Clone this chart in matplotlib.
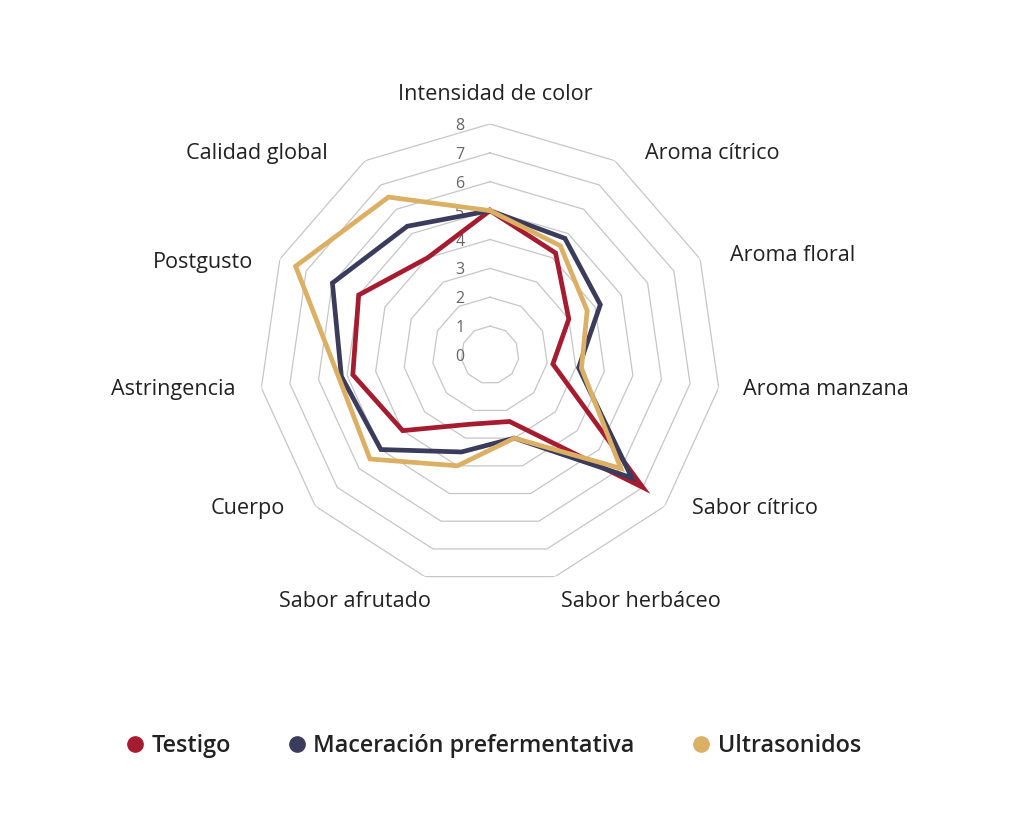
import numpy as np
import matplotlib
matplotlib.use("Agg")
import matplotlib.pyplot as plt
from matplotlib.lines import Line2D

categories = ["Intensidad de color", "Aroma cítrico", "Aroma floral", "Aroma manzana",
              "Sabor cítrico", "Sabor herbáceo", "Sabor afrutado", "Cuerpo",
              "Astringencia", "Postgusto", "Calidad global"]
series_names = ["Testigo", "Maceración prefermentativa", "Ultrasonidos"]
testigo = [5.0, 4.2, 3.0, 2.2, 7.0, 2.4, 2.5, 4.0, 4.8, 5.0, 4.0]
maceracion = [5.0, 4.8, 4.2, 3.1, 6.5, 3.0, 3.5, 5.0, 5.2, 6.0, 5.3]
ultrasonidos = [5.0, 4.5, 3.7, 3.2, 6.0, 3.0, 4.0, 5.5, 5.3, 7.4, 6.5]
levels = [0, 1, 2, 3, 4, 5, 6, 7, 8]

colors = ["#A51C30", "#3B3B5C", "#DCB064"]
FONT = "Open Sans"
plt.rcParams['font.family'] = [FONT, 'DejaVu Sans']

fig = plt.figure(figsize=(10.24, 8.34), dpi=100)
W, H = 1024, 834
cx, cy, R = 490, 355, 231
ax = fig.add_axes([(cx - R) / W, (H - cy - R) / H, 2 * R / W, 2 * R / H], projection='polar')
ax.set_theta_zero_location('N')
ax.set_theta_direction(-1)
ax.set_ylim(0, levels[-1])
ax.grid(False)
ax.spines['polar'].set_visible(False)
ax.set_xticks([])
ax.set_yticks([])
ax.patch.set_alpha(0)

n = len(categories)
theta = np.linspace(0, 2 * np.pi, n, endpoint=False)
theta_c = np.append(theta, theta[0])

for lv in levels[1:]:
    ax.plot(theta_c, [lv] * (n + 1), color="#c6c6c6", lw=0.9, zorder=1)

for lv in levels:
    ax.annotate(str(lv), xy=(0, lv), xytext=(-30, -2), textcoords='offset pixels',
                ha='center', va='center', fontsize=11.5, color='#666666', zorder=2)

for vals, col in zip([testigo, maceracion, ultrasonidos], colors):
    v = np.append(vals, vals[0])
    ax.plot(theta_c, v, color=col, lw=3.4, solid_joinstyle='miter', zorder=3)

# label offsets (pixels) from outer vertex and alignment
label_layout = [((5, 30), 'center'), ((30, 7), 'left'), ((30, 4), 'left'), ((24, -2), 'left'),
                ((27, -2), 'left'), ((6, -25), 'left'), ((6, -25), 'right'), ((-31, -2), 'right'),
                ((-26, -2), 'right'), ((-27, -3), 'right'), ((-37, 7), 'right')]
for t, lab, (off, ha) in zip(theta, categories, label_layout):
    ax.annotate(lab, xy=(t, levels[-1]), xytext=off, textcoords='offset pixels',
                ha=ha, va='center', fontsize=15.6, color='#222222', annotation_clip=False)

handles = [Line2D([], [], marker='o', ls='none', color=c, markersize=11) for c in colors]
fig.legend(handles, series_names, loc='center', bbox_to_anchor=(492 / W, 1 - 746 / H),
           ncol=3, frameon=False, handletextpad=0.2, columnspacing=2.35,
           handlelength=1.0, labelcolor='#222222', prop={'family': FONT, 'size': 16.8, 'weight': 'semibold'})

fig.savefig("out.png", dpi=100, facecolor='white')
